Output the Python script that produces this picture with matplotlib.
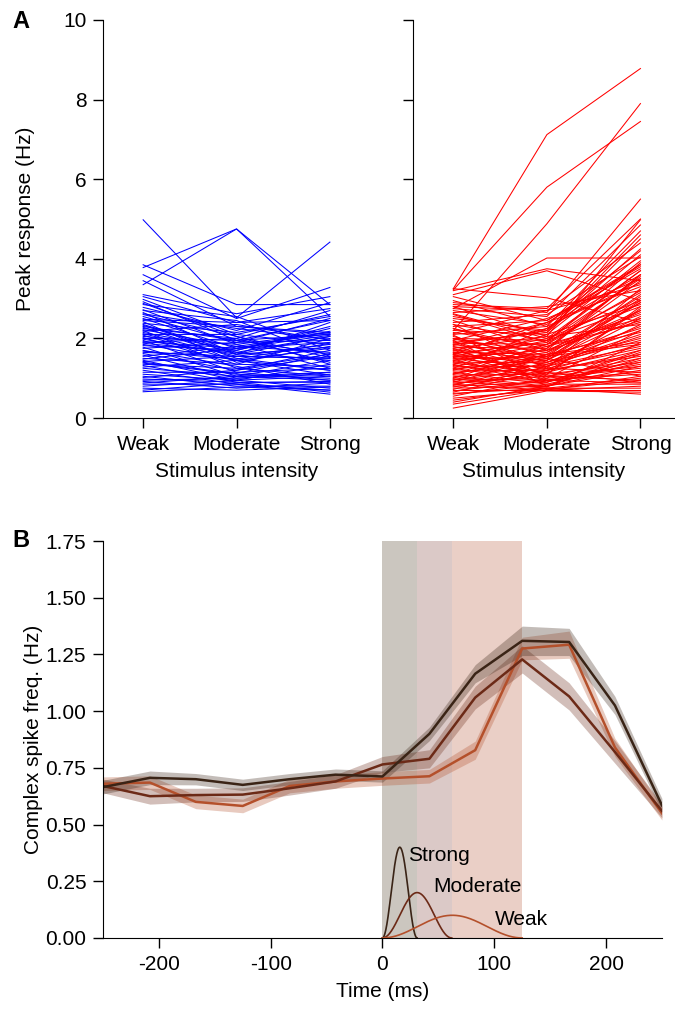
import numpy as np
import matplotlib
matplotlib.use('Agg')
import matplotlib.pyplot as plt

plt.rcParams['font.family'] = ['Liberation Sans', 'DejaVu Sans']
plt.rcParams['axes.unicode_minus'] = False

# panel A: peak response per cell (weak, moderate, strong)
intensity = ['Weak', 'Moderate', 'Strong']

blue_weak = [4.98, 3.78, 3.35, 3.85, 3.60, 3.45, 3.10, 3.05, 2.98, 2.92, 2.85, 2.78, 2.72, 2.70,
             2.65, 2.60, 2.55, 2.50, 2.45, 2.42, 2.38, 2.35, 2.30, 2.28, 2.25, 2.22, 2.20, 2.18,
             2.15, 2.12, 2.10, 2.05, 2.02, 2.00, 1.98, 1.95, 1.92, 1.90, 1.85, 1.82, 1.78, 1.75,
             1.70, 1.65, 1.62, 1.58, 1.55, 1.50, 1.45, 1.42, 1.38, 1.35, 1.32, 1.28, 1.25, 1.20,
             1.15, 1.10, 1.05, 1.02, 0.98, 0.95, 0.92, 0.88, 0.85, 0.80, 0.75, 0.70, 0.66, 2.62,
             2.48, 2.33, 1.88, 1.68, 1.48, 1.40, 2.08, 2.88]
blue_mod = [2.52, 4.75, 4.75, 2.85, 2.50, 2.30, 2.62, 2.40, 2.10, 1.95, 2.55, 2.20, 1.85, 2.45,
            1.60, 2.05, 1.90, 1.75, 2.30, 1.40, 2.15, 1.65, 1.95, 1.50, 2.00, 1.80, 1.25, 2.35,
            1.70, 1.55, 2.10, 1.85, 1.35, 1.95, 1.60, 1.15, 1.75, 2.00, 1.45, 1.70, 1.05, 1.90,
            1.30, 1.55, 1.20, 1.00, 1.80, 1.35, 0.95, 1.55, 1.10, 1.25, 0.90, 1.45, 1.05, 0.85,
            1.15, 0.95, 0.80, 1.20, 0.90, 1.00, 0.75, 1.05, 0.85, 0.95, 0.70, 0.88, 0.78, 2.25,
            2.40, 1.60, 1.65, 1.48, 1.75, 1.12, 1.45, 2.05]
blue_strong = [4.42, 2.55, 2.85, 2.85, 3.28, 2.10, 3.05, 2.75, 2.60, 2.45, 1.70, 2.90, 2.15, 1.55,
               2.05, 1.35, 2.50, 1.90, 2.15, 1.80, 2.55, 1.45, 2.10, 1.20, 2.70, 1.65, 1.05, 1.95,
               2.25, 1.50, 1.85, 1.25, 2.00, 1.60, 2.40, 0.95, 2.08, 1.40, 1.75, 2.30, 1.15, 1.95,
               0.85, 1.50, 1.70, 1.10, 2.12, 1.30, 0.75, 1.85, 1.00, 1.60, 0.90, 1.20, 1.45, 0.70,
               1.25, 1.05, 0.80, 1.55, 0.65, 1.15, 0.88, 0.95, 0.60, 1.35, 0.78, 0.92, 0.70, 1.98,
               2.45, 1.78, 2.05, 1.88, 2.18, 1.62, 1.08, 1.52]

red_weak = [3.25, 3.22, 2.20, 3.20, 3.10, 2.75, 3.25, 2.90, 2.85, 2.80, 2.75, 2.70, 2.65, 2.60,
            2.50, 2.45, 2.40, 2.35, 2.30, 2.25, 2.20, 2.15, 2.10, 2.05, 2.00, 1.98, 1.95, 1.92,
            1.90, 1.88, 1.85, 1.82, 1.80, 1.78, 1.75, 1.72, 1.70, 1.68, 1.65, 1.62, 1.60, 1.58,
            1.55, 1.52, 1.50, 1.48, 1.45, 1.42, 1.40, 1.38, 1.35, 1.32, 1.30, 1.28, 1.25, 1.22,
            1.20, 1.18, 1.15, 1.12, 1.10, 1.08, 1.05, 1.02, 1.00, 0.98, 0.95, 0.92, 0.90, 0.88,
            0.85, 0.82, 0.80, 0.78, 0.75, 0.72, 0.70, 0.68, 0.65, 0.62, 0.60, 0.55, 0.50, 0.45,
            0.40, 0.35, 0.25, 2.95, 2.55, 2.62, 2.12, 1.85, 1.60, 1.45, 2.35, 2.08, 1.75, 1.95,
            1.25, 1.10, 0.95, 0.85, 1.65, 1.35, 1.55, 2.25, 2.80, 3.05, 2.00, 0.98]
red_mod = [7.12, 5.80, 4.88, 3.75, 3.70, 4.02, 3.02, 2.65, 2.75, 2.05, 2.55, 2.35, 2.80, 1.90,
           2.20, 1.70, 2.60, 1.95, 2.45, 1.55, 2.10, 1.80, 2.30, 1.40, 1.95, 1.65, 2.50, 1.30,
           2.15, 1.85, 1.50, 2.40, 1.20, 1.75, 2.05, 1.45, 1.10, 2.25, 1.60, 1.90, 1.35, 1.00,
           2.00, 1.70, 1.25, 1.55, 0.95, 1.85, 1.40, 1.15, 2.10, 1.05, 1.65, 1.30, 0.90, 1.50,
           1.80, 1.20, 0.85, 1.45, 1.60, 1.10, 0.80, 1.35, 1.75, 0.95, 1.25, 0.75, 1.55, 1.05,
           0.70, 1.40, 0.90, 1.15, 0.80, 1.30, 0.70, 0.95, 1.20, 0.75, 0.85, 1.00, 0.70, 0.75,
           0.80, 0.72, 0.68, 2.30, 2.15, 2.00, 2.70, 2.20, 2.40, 1.95, 1.25, 1.05, 0.95, 0.80,
           2.25, 1.85, 1.60, 1.20, 1.10, 0.90, 1.45, 1.70, 2.70, 2.45, 1.50, 0.78]
red_strong = [8.78, 7.45, 7.90, 3.45, 2.95, 4.02, 2.40, 5.50, 5.00, 4.98, 4.85, 4.20, 3.20, 3.90,
              4.25, 3.60, 4.05, 2.80, 3.80, 3.10, 3.95, 2.60, 3.40, 2.20, 3.70, 3.05, 3.50, 1.80,
              4.10, 2.50, 2.90, 3.30, 1.60, 3.60, 2.35, 2.70, 1.40, 3.85, 2.15, 3.15, 1.95, 1.25,
              2.95, 2.45, 3.25, 1.85, 1.10, 3.55, 2.30, 1.70, 2.85, 0.95, 2.65, 2.05, 1.45, 3.00,
              2.40, 1.55, 0.85, 2.55, 1.90, 2.75, 1.20, 2.10, 3.45, 1.35, 1.75, 0.75, 2.25, 1.50,
              1.05, 2.00, 1.65, 0.90, 1.30, 2.50, 0.70, 1.15, 1.85, 0.60, 1.40, 2.20, 0.80, 1.00,
              1.60, 0.95, 0.65, 4.70, 4.50, 3.70, 4.40, 4.60, 3.75, 3.50, 1.15, 1.30, 0.88, 1.50,
              3.60, 3.20, 2.90, 2.35, 2.80, 1.70, 2.95, 2.70, 3.35, 3.85, 1.05, 1.90]

# panel B: complex spike frequency around stimulus onset
time_ms = [-250, -208, -167, -125, -83, -42, 0, 42, 83, 125, 167, 208, 250]
strong_mean = [0.665, 0.706, 0.70, 0.675, 0.70, 0.72, 0.712, 0.90, 1.165, 1.31, 1.305, 1.025, 0.585]
strong_sem = [0.03, 0.03, 0.025, 0.025, 0.025, 0.025, 0.025, 0.03, 0.04, 0.065, 0.06, 0.04, 0.03]
mod_mean = [0.67, 0.625, 0.63, 0.632, 0.66, 0.69, 0.765, 0.79, 1.06, 1.228, 1.065, 0.82, 0.56]
mod_sem = [0.03, 0.035, 0.03, 0.03, 0.03, 0.03, 0.035, 0.04, 0.05, 0.06, 0.06, 0.05, 0.03]
weak_mean = [0.68, 0.685, 0.60, 0.582, 0.67, 0.69, 0.703, 0.713, 0.828, 1.276, 1.293, 0.84, 0.55]
weak_sem = [0.03, 0.03, 0.03, 0.03, 0.03, 0.03, 0.03, 0.03, 0.04, 0.05, 0.06, 0.04, 0.03]

# stimulus pulses: duration (ms) and peak height
pulse_names = ['Strong', 'Moderate', 'Weak']
pulse_dur = [31, 62, 125]
pulse_peak = [0.40, 0.20, 0.10]
span_colors = ['#cbc6bf', '#dbc9c7', '#eacfc6']
line_colors = ['#3a2416', '#6c2a17', '#b4502b']
label_pos = [(23, 0.365), (45, 0.225), (101, 0.08)]

FS = 15

fig = plt.figure(figsize=(6.75, 10.09), dpi=100)
axA1 = fig.add_axes([0.1526, 0.5857, 0.397, 0.3945])
axA2 = fig.add_axes([0.612, 0.5857, 0.3867, 0.3945])
axB = fig.add_axes([0.1526, 0.0704, 0.828, 0.3934])

x = np.arange(3)
for i in range(len(blue_weak)):
    axA1.plot(x, [blue_weak[i], blue_mod[i], blue_strong[i]], color='#0000ff', lw=0.75)
for i in range(len(red_weak)):
    axA2.plot(x, [red_weak[i], red_mod[i], red_strong[i]], color='#ff0000', lw=0.75)

for ax in (axA1, axA2):
    ax.set_ylim(0, 10)
    ax.set_yticks([0, 2, 4, 6, 8, 10])
    ax.set_xticks(x)
    ax.set_xticklabels(intensity)
    ax.set_xlabel('Stimulus intensity', fontsize=FS, labelpad=6)
    ax.spines['top'].set_visible(False)
    ax.spines['right'].set_visible(False)
    ax.tick_params(direction='out', length=7, width=1, labelsize=FS, pad=5)
axA1.set_xlim(-0.43, 2.44)
axA2.set_xlim(-0.43, 2.36)
axA2.set_yticklabels([])
axA1.set_ylabel('Peak response (Hz)', fontsize=FS, labelpad=20)

# panel B
for d, c in sorted(zip(pulse_dur, span_colors), reverse=True):
    axB.axvspan(0, d, color=c, lw=0, zorder=0)

for m, s, c in [(weak_mean, weak_sem, line_colors[2]),
                (mod_mean, mod_sem, line_colors[1]),
                (strong_mean, strong_sem, line_colors[0])]:
    m = np.array(m)
    s = np.array(s)
    axB.fill_between(time_ms, m - s, m + s, color=c, alpha=0.3, lw=0, zorder=1)
    axB.plot(time_ms, m, color=c, lw=1.8, zorder=2)

for name, d, p, c, pos in zip(pulse_names, pulse_dur, pulse_peak, line_colors, label_pos):
    t = np.linspace(0, d, 200)
    axB.plot(t, p * np.hanning(200), color=c, lw=1.2, zorder=3)
    axB.text(pos[0], pos[1], name, fontsize=FS, ha='left', va='center')

axB.set_xlim(-250, 250)
axB.set_ylim(0, 1.75)
axB.set_xticks([-200, -100, 0, 100, 200])
axB.set_yticks([0, 0.25, 0.5, 0.75, 1.0, 1.25, 1.5, 1.75])
axB.set_yticklabels(['0.00', '0.25', '0.50', '0.75', '1.00', '1.25', '1.50', '1.75'])
axB.spines['top'].set_visible(False)
axB.spines['right'].set_visible(False)
axB.tick_params(direction='out', length=7, width=1, labelsize=FS, pad=5)
axB.set_xlabel('Time (ms)', fontsize=FS, labelpad=6)
axB.set_ylabel('Complex spike freq. (Hz)', fontsize=FS, labelpad=2)

fig.text(0.018, 0.979, 'A', fontsize=17, fontweight='bold', va='center')
fig.text(0.018, 0.464, 'B', fontsize=17, fontweight='bold', va='center')

plt.savefig('out.png', dpi=100)
